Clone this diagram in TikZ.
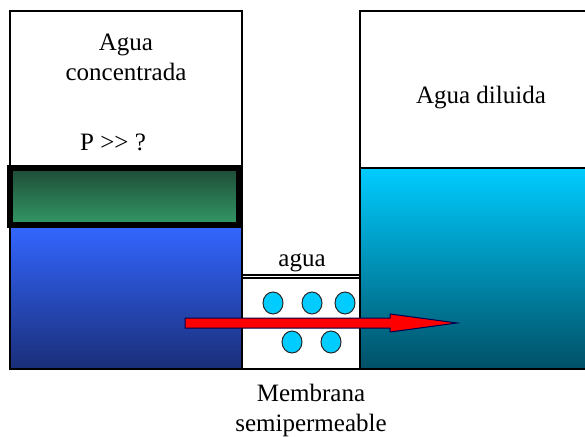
\documentclass[tikz,border=0pt]{standalone}
\usepackage{fontspec}
\setmainfont{Liberation Serif}
\begin{document}
\begin{tikzpicture}[x=1pt,y=-1pt,
  lbl/.style={font=\fontsize{25}{30}\selectfont, align=center, text=black},
  wall/.style={draw=black, line width=1.5pt}]
\definecolor{bluetop}{RGB}{51,102,255}
\definecolor{bluebot}{RGB}{26,46,120}
\definecolor{greentop}{RGB}{30,75,55}
\definecolor{greenbot}{RGB}{51,153,102}
\definecolor{cyantop}{RGB}{0,204,255}
\definecolor{cyanbot}{RGB}{0,80,102}
\definecolor{dropc}{RGB}{0,204,255}
\useasboundingbox (0,0) rectangle (585,436);
% left container
\draw[wall, fill=white] (10,11) rectangle (242,369);
\shade[top color=bluetop, bottom color=bluebot] (10,227) rectangle (242,369);
\draw[wall] (10,11) rectangle (242,369);
% piston
\shade[top color=greentop, bottom color=greenbot] (10,168) rectangle (239,225);
\draw[black, line width=6pt] (10,168) rectangle (239,225);
% right container
\shade[top color=cyantop, bottom color=cyanbot] (360,168) rectangle (590,369);
\draw[wall] (590,11) -- (360,11) -- (360,369) -- (590,369);
\draw[wall] (360,168) -- (590,168);
% membrane
\draw[wall] (242,275) -- (360,275);
\draw[wall] (242,278) rectangle (360,369);
\foreach \n/\px/\py in {d1/273/303, d2/312/303, d3/345/303, d4/292/342, d5/331/342} {
  \fill[dropc, draw=black!85, line width=1pt] (\px,\py) ellipse (10pt and 11pt);
}
% arrow
\fill[red, draw=black!70!blue, line width=1pt] (185,318) -- (390,318) -- (390,314) -- (457,323) -- (390,332) -- (390,328) -- (185,328) -- cycle;
% labels
\node[lbl] (conc) at (126,57) {Agua\\concentrada};
\node[lbl] (p) at (113,142) {P >{}> ?};
\node[lbl] (dil) at (481,98) {Agua diluida};
\node[lbl] (ag) at (302,263) {agua};
\node[lbl] (mem) at (311,410) {Membrana\\semipermeable};
\end{tikzpicture}
\end{document}
